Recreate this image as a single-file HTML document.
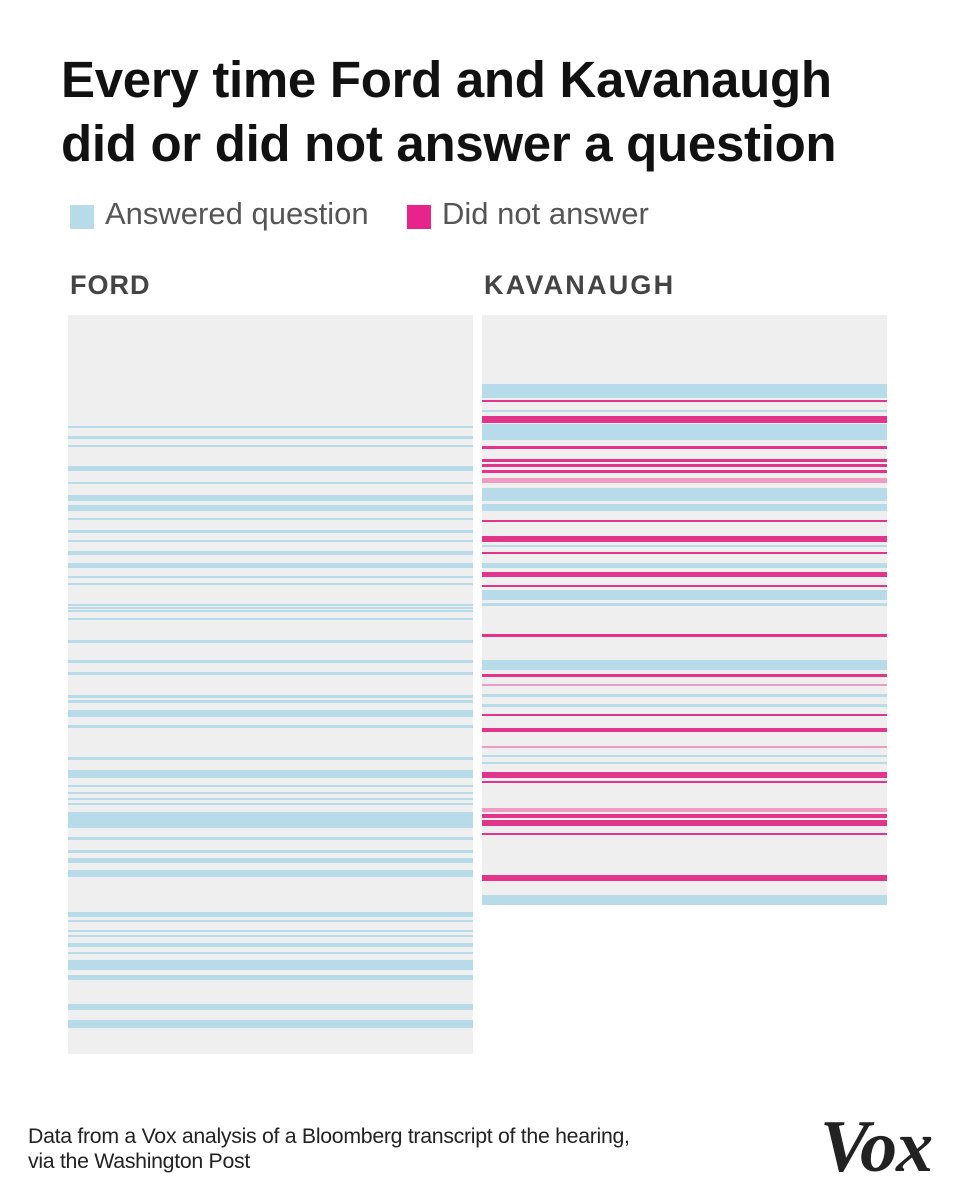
<!DOCTYPE html>
<html><head><meta charset="utf-8"><style>
body{margin:0;width:959px;height:1199px;background:#fff;position:relative;overflow:hidden;font-family:"Liberation Sans",sans-serif}
.t{position:absolute;left:61px;top:48px;font-size:51px;font-weight:bold;line-height:64px;color:#111;letter-spacing:-0.3px}
.sq{position:absolute;width:24px;height:24px;top:205px}
.lg{position:absolute;top:196px;font-size:31px;color:#555}
.h{position:absolute;top:270px;font-size:27px;font-weight:bold;color:#444;letter-spacing:1px}
.p{position:absolute;background:#efefef}
.p div{position:absolute;left:0;right:0}
.b div{background:#b7dbe8}
.k .b{background:#b7dbe8}.k .m{background:#e0358a}.k .l{background:#ef9cc2}
.f{position:absolute;left:28px;top:1124px;font-size:21.3px;line-height:25px;color:#222;letter-spacing:-0.3px}
.v{position:absolute;left:820px;top:1105px;font-family:"Liberation Serif",serif;font-weight:bold;font-style:italic;font-size:74px;color:#222;letter-spacing:-1px}
</style></head><body>
<div class="t">Every time Ford and Kavanaugh<br>did or did not answer a question</div>
<div class="sq" style="left:70px;background:#b7dbe8"></div><div class="lg" style="left:105px">Answered question</div>
<div class="sq" style="left:407px;background:#e8238a"></div><div class="lg" style="left:442px">Did not answer</div>
<div class="h" style="left:70px">FORD</div><div class="h" style="left:484px;letter-spacing:2.2px">KAVANAUGH</div>
<div class="p b" style="left:68px;top:315px;width:405px;height:739px">
<div style="top:111px;height:2px"></div><div style="top:121px;height:3px"></div><div style="top:130px;height:2px"></div><div style="top:151px;height:5px"></div><div style="top:167px;height:2px"></div><div style="top:180px;height:6px"></div><div style="top:190px;height:6px"></div><div style="top:203px;height:2px"></div><div style="top:215px;height:3px"></div><div style="top:225px;height:2px"></div><div style="top:236px;height:4px"></div><div style="top:248px;height:5px"></div><div style="top:261px;height:2px"></div><div style="top:268px;height:2px"></div><div style="top:289px;height:2px"></div><div style="top:292px;height:2px"></div><div style="top:295px;height:2px"></div><div style="top:303px;height:2px"></div><div style="top:325px;height:3px"></div><div style="top:345px;height:3px"></div><div style="top:357px;height:3px"></div><div style="top:380px;height:3px"></div><div style="top:385px;height:3px"></div><div style="top:395px;height:7px"></div><div style="top:410px;height:3px"></div><div style="top:442px;height:3px"></div><div style="top:455px;height:8px"></div><div style="top:470px;height:2px"></div><div style="top:477px;height:2px"></div><div style="top:483px;height:2px"></div><div style="top:488px;height:2px"></div><div style="top:497px;height:16px"></div><div style="top:522px;height:3px"></div><div style="top:535px;height:3px"></div><div style="top:543px;height:5px"></div><div style="top:555px;height:7px"></div><div style="top:597px;height:5px"></div><div style="top:605px;height:2px"></div><div style="top:615px;height:2px"></div><div style="top:620px;height:2px"></div><div style="top:628px;height:4px"></div><div style="top:637px;height:2px"></div><div style="top:645px;height:10px"></div><div style="top:660px;height:5px"></div><div style="top:689px;height:6px"></div><div style="top:705px;height:8px"></div>
</div>
<div class="p k" style="left:482px;top:315px;width:405px;height:590px">
<div class="b" style="top:69px;height:14px"></div><div class="m" style="top:85px;height:2px"></div><div class="b" style="top:95px;height:2px"></div><div class="m" style="top:101px;height:7px"></div><div class="b" style="top:109px;height:16px"></div><div class="m" style="top:131px;height:3px"></div><div class="m" style="top:144px;height:3px"></div><div class="m" style="top:149px;height:3px"></div><div class="m" style="top:155px;height:3px"></div><div class="l" style="top:163px;height:5px"></div><div class="b" style="top:173px;height:13px"></div><div class="b" style="top:189px;height:7px"></div><div class="m" style="top:205px;height:2px"></div><div class="m" style="top:221px;height:6px"></div><div class="b" style="top:230px;height:2px"></div><div class="m" style="top:237px;height:2px"></div><div class="b" style="top:248px;height:5px"></div><div class="m" style="top:257px;height:5px"></div><div class="m" style="top:270px;height:2px"></div><div class="b" style="top:275px;height:10px"></div><div class="b" style="top:288px;height:3px"></div><div class="m" style="top:319px;height:3px"></div><div class="b" style="top:345px;height:10px"></div><div class="m" style="top:359px;height:3px"></div><div class="l" style="top:369px;height:2px"></div><div class="b" style="top:379px;height:3px"></div><div class="b" style="top:389px;height:3px"></div><div class="m" style="top:399px;height:2px"></div><div class="m" style="top:413px;height:4px"></div><div class="l" style="top:431px;height:2px"></div><div class="b" style="top:440px;height:2px"></div><div class="b" style="top:447px;height:2px"></div><div class="m" style="top:457px;height:6px"></div><div class="m" style="top:466px;height:2px"></div><div class="l" style="top:493px;height:4px"></div><div class="m" style="top:499px;height:4px"></div><div class="m" style="top:505px;height:6px"></div><div class="m" style="top:518px;height:2px"></div><div class="m" style="top:560px;height:6px"></div><div class="b" style="top:580px;height:10px"></div>
</div>
<div class="f">Data from a Vox analysis of a Bloomberg transcript of the hearing,<br>via the Washington Post</div>
<div class="v">Vox</div>
</body></html>
